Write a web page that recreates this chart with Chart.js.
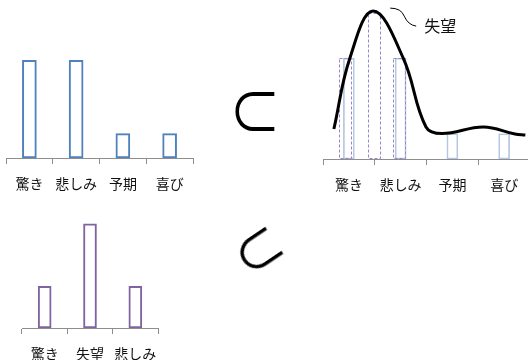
<!DOCTYPE html>
<html>
<head>
<meta charset="utf-8">
<script src="https://cdn.jsdelivr.net/npm/chart.js@4/dist/chart.umd.min.js"></script>
<style>
html, body { margin: 0; padding: 0; background: #fff; width: 528px; height: 360px; overflow: hidden; position: relative; }
.box { position: absolute; }
.sym { position: absolute; width: 100px; height: 100px; line-height: 100px; text-align: center;
       font-family: "Noto Sans CJK JP"; font-weight: 400; font-size: 52px; color: #000; }
</style>
</head>
<body>
<div class="box" style="left:2px; top:36px; width:195px; height:162px"><canvas id="topLeft"></canvas></div>
<div class="box" style="left:18px; top:203px; width:150px; height:165px"><canvas id="bottomLeft"></canvas></div>
<div class="box" style="left:319px; top:0px; width:215px; height:199px"><canvas id="overlay"></canvas></div>
<span class="sym" style="left:205px; top:59px; transform:scale(1, 1.14)">⊂</span>
<span class="sym" style="left:207px; top:198px; font-size:50px; transform:rotate(-34deg)">⊂</span>

<script>
// data
const topCategories = ['驚き', '悲しみ', '予期', '喜び'];
const topValues = [4, 4, 1, 1];

const bottomCategories = ['驚き', '失望', '悲しみ'];
const bottomValues = [2, 5, 2];

// right panel: blue bars sit on the categories, purple ones are shifted
const overlayBlueX = [0, 1, 2, 3];
const overlayPurpleX = [-0.06, 0.5, 0.97];
const overlayPurpleValues = [4, 5.8, 4];
const curveX = [-0.29, 0.02, 0.47, 1.05, 1.49, 1.8, 2.6, 3.21, 3.41];
const curveY = [1.19, 4.0, 5.86, 4.0, 1.27, 1.01, 1.27, 0.99, 0.95];
const curveLabel = '失望';

const BLUE = '#4F81BD';
const PURPLE = '#8064A2';
const AXIS = '#8e8e8e';
const FONT = '"Noto Sans CJK JP", "Noto Sans", sans-serif';

function categoryAxis() {
    return {
        type: 'category',
        offset: true,
        grid: { offset: true, drawOnChartArea: false, drawTicks: true, tickLength: 6, color: AXIS },
        border: { display: true, color: AXIS },
        ticks: { color: '#111', padding: 11, autoSkip: false, maxRotation: 0, font: { family: FONT, size: 14 } },
        afterFit: (scale) => { scale.height = 40; }
    };
}

const baseOptions = (yMax) => ({
    responsive: true,
    maintainAspectRatio: false,
    animation: false,
    layout: { padding: { left: 4, right: 4, top: 0, bottom: 0 } },
    plugins: { legend: { display: false }, tooltip: { enabled: false } },
    scales: {
        x: categoryAxis(),
        y: { display: false, min: 0, max: yMax }
    }
});

new Chart(document.getElementById('topLeft'), {
    type: 'bar',
    data: {
        labels: topCategories,
        datasets: [{
            data: topValues,
            backgroundColor: '#fff',
            borderColor: BLUE,
            borderWidth: 2,
            borderSkipped: false,
            barThickness: 14
        }]
    },
    options: baseOptions(5)
});

new Chart(document.getElementById('bottomLeft'), {
    type: 'bar',
    data: {
        labels: bottomCategories,
        datasets: [{
            data: bottomValues,
            backgroundColor: '#fff',
            borderColor: PURPLE,
            borderWidth: 2,
            borderSkipped: false,
            barThickness: 13
        }]
    },
    options: baseOptions(6)
});

// dashed outline for the purple bars, drawn right after that dataset
const dashedBars = {
    id: 'dashedBars',
    afterDatasetDraw(chart, args) {
        if (args.index !== 1) return;
        const ctx = chart.ctx;
        ctx.save();
        ctx.setLineDash([3, 2]);
        ctx.strokeStyle = '#9a86c6';
        ctx.lineWidth = 1;
        args.meta.data.forEach(bar => {
            const { x, y, base, width } = bar.getProps(['x', 'y', 'base', 'width'], true);
            ctx.strokeRect(Math.round(x - width / 2) + 0.5, Math.round(y) + 0.5, Math.round(width) - 1, Math.round(base - y) - 1);
        });
        ctx.restore();
    }
};

// leader line and label next to the curve's peak
const peakLabel = {
    id: 'peakLabel',
    afterDatasetsDraw(chart) {
        const meta = chart.getDatasetMeta(2);
        const i = curveY.indexOf(Math.max(...curveY));
        const p = meta.data[i];
        const ctx = chart.ctx;
        ctx.save();
        ctx.strokeStyle = '#000';
        ctx.lineWidth = 1;
        ctx.beginPath();
        ctx.moveTo(p.x + 17, p.y - 3);
        ctx.quadraticCurveTo(p.x + 28, p.y - 3, p.x + 31, p.y + 5);
        ctx.quadraticCurveTo(p.x + 35, p.y + 14, p.x + 43, p.y + 15);
        ctx.stroke();
        ctx.fillStyle = '#111';
        ctx.font = '16px ' + FONT;
        ctx.textBaseline = 'middle';
        ctx.fillText(curveLabel, p.x + 51, p.y + 15);
        ctx.restore();
    }
};

const overlayOptions = baseOptions(6.3);
overlayOptions.scales.xl = { type: 'linear', axis: 'x', display: false, offset: false, grid: { offset: false }, min: -0.5, max: 3.5 };

new Chart(document.getElementById('overlay'), {
    type: 'bar',
    data: {
        labels: topCategories,
        datasets: [
            {
                data: topValues.map((v, i) => ({ x: overlayBlueX[i], y: v })),
                xAxisID: 'xl',
                backgroundColor: 'rgba(0,0,0,0)',
                borderColor: '#b3c6e2',
                borderWidth: 1,
                borderSkipped: false,
                barThickness: 11,
                grouped: false,
                order: 3
            },
            {
                data: overlayPurpleValues.map((v, i) => ({ x: overlayPurpleX[i], y: v })),
                xAxisID: 'xl',
                backgroundColor: 'rgba(0,0,0,0)',
                borderWidth: 0,
                barThickness: 13,
                grouped: false,
                order: 2
            },
            {
                type: 'line',
                data: curveY.map((v, i) => ({ x: curveX[i], y: v })),
                xAxisID: 'xl',
                borderColor: '#000',
                borderWidth: 3,
                pointRadius: 0,
                tension: 0.4,
                fill: false,
                order: 0
            }
        ]
    },
    options: overlayOptions,
    plugins: [dashedBars, peakLabel]
});
</script>
</body>
</html>
